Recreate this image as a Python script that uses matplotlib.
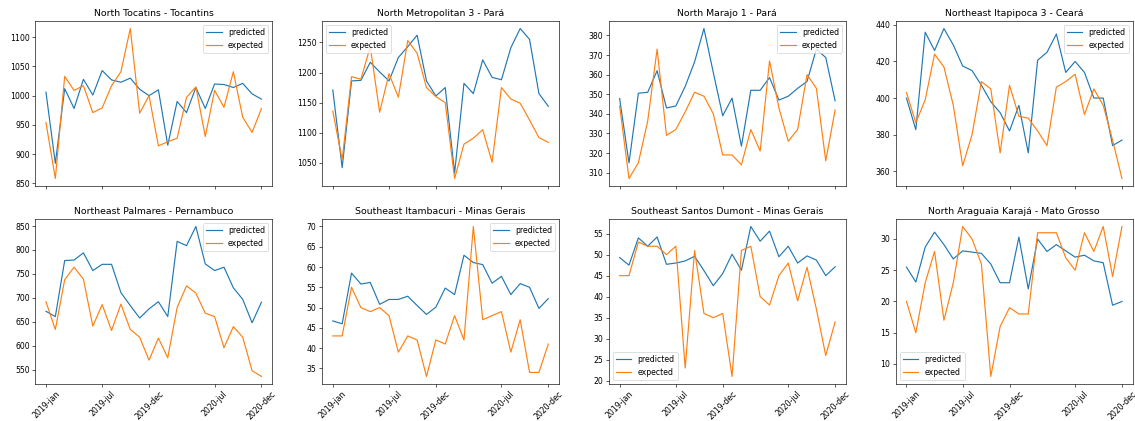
import numpy as np
import matplotlib
matplotlib.use("Agg")
import matplotlib.pyplot as plt

#--------------data-------------
months = list(range(24))
tick_pos = [0, 6, 11, 18, 23]
tick_labels = ['2019-jan', '2019-jul', '2019-dec', '2020-jul', '2020-dec']

titles = ['North Tocatins - Tocantins', 'North Metropolitan 3 - Pará',
          'North Marajo 1 - Pará', 'Northeast Itapipoca 3 - Ceará',
          'Northeast Palmares - Pernambuco', 'Southeast Itambacuri - Minas Gerais',
          'Southeast Santos Dumont - Minas Gerais', 'North Araguaia Karajá - Mato Grosso']

tocantins_pred = [1006, 884, 1012, 978, 1028, 1001, 1043, 1027, 1023, 1030, 1011, 1000,
                  1010, 915, 990, 971, 1014, 978, 1020, 1019, 1014, 1021, 1003, 994]
tocantins_exp = [954, 858, 1033, 1009, 1017, 971, 979, 1017, 1041, 1115, 970, 1000,
                 914, 921, 927, 997, 1015, 930, 1009, 980, 1041, 963, 937, 978]

metropolitan_pred = [1171, 1042, 1186, 1187, 1217, 1201, 1186, 1225, 1243, 1262, 1186, 1161,
                     1175, 1033, 1182, 1165, 1221, 1192, 1188, 1241, 1273, 1255, 1165, 1144]
metropolitan_exp = [1136, 1055, 1193, 1189, 1243, 1134, 1198, 1159, 1253, 1232, 1175, 1160,
                    1150, 1024, 1081, 1091, 1105, 1051, 1175, 1156, 1149, 1121, 1092, 1084]

marajo_pred = [347.8, 315, 350.5, 351, 362, 343, 344, 354, 366.5, 383.5, 361, 339,
               348, 323.5, 352, 352, 358.5, 347, 349, 353, 356.5, 373, 368.7, 346.6]
marajo_exp = [344, 307, 315, 336.4, 373, 329, 332, 341, 351, 349, 340, 319,
              319, 314, 332, 321, 367, 343, 326, 332, 360, 353, 316, 342]

itapipoca_pred = [400, 382.7, 436, 426, 438, 429, 417.5, 415, 407, 398, 392, 382,
                  396, 370, 420.7, 425, 435, 414, 420, 414, 400, 400, 374, 377]
itapipoca_exp = [403, 386.5, 399, 424, 417, 396, 363, 380, 409, 405, 370, 407,
                 390, 389, 382, 374, 406, 409, 413, 391, 405, 396, 377, 356]

palmares_pred = [672, 661, 778, 779, 794, 757, 770, 770, 711, 684, 658, 677,
                 692, 661, 818, 809, 849, 771, 757, 764, 721, 697, 648, 691]
palmares_exp = [692, 634, 738, 764, 739, 641, 686, 632, 687, 634, 618, 570,
                616, 575, 680, 725, 710, 668, 661, 596, 640, 618, 548, 536]

itambacuri_pred = [46.7, 46, 58.5, 55.8, 56.2, 50.8, 52, 52, 52.8, 50.5, 48.3, 50.1,
                   54.8, 53.2, 62.9, 61.1, 60.6, 56, 57.7, 53.2, 55.9, 55, 49.8, 52.2]
itambacuri_exp = [43, 43, 55, 50, 49, 50, 48, 39, 43, 42, 33, 42,
                  41, 48, 42, 70, 47, 48, 49, 39, 47, 34, 34, 41]

santos_pred = [49.3, 47.5, 54, 52, 54.2, 47.7, 48, 48.5, 49.6, 46.2, 42.6, 45.5,
               50.1, 46.3, 56.7, 53.2, 55.6, 49.5, 52, 48, 49.7, 48.7, 45, 47.1]
santos_exp = [45, 45, 53, 52, 52, 50, 52, 23, 51, 36, 35, 36,
              21, 51, 52, 40, 38, 45, 48, 39, 47, 37, 26, 34]

araguaia_pred = [25.5, 23.1, 28.7, 31.1, 29.1, 26.8, 28.1, 27.9, 27.7, 26, 23, 23,
                 30.3, 22, 30, 28, 29.1, 28.1, 27.1, 27.4, 26.5, 26.2, 19.4, 20]
araguaia_exp = [20, 15, 23, 28, 17, 23, 32, 30, 26, 8, 16, 19,
                18, 18, 31, 31, 31, 27, 25, 31, 28, 32, 24, 32]

predicted = [tocantins_pred, metropolitan_pred, marajo_pred, itapipoca_pred,
             palmares_pred, itambacuri_pred, santos_pred, araguaia_pred]
expected = [tocantins_exp, metropolitan_exp, marajo_exp, itapipoca_exp,
            palmares_exp, itambacuri_exp, santos_exp, araguaia_exp]
legend_loc = ['upper right', 'upper left', 'upper right', 'upper right',
              'upper right', 'upper right', 'lower left', 'lower left']

#--------------------draw---------------------
# the original looks like a big figure shrunk down, so everything is scaled
s = 0.56
plt.rcParams['axes.linewidth'] = 0.8 * s
plt.rcParams['xtick.major.width'] = 0.8 * s
plt.rcParams['ytick.major.width'] = 0.8 * s
plt.rcParams['xtick.major.size'] = 3.5 * s
plt.rcParams['ytick.major.size'] = 3.5 * s
plt.rcParams['xtick.major.pad'] = 3.5 * s
plt.rcParams['ytick.major.pad'] = 3.5 * s
plt.rcParams['patch.linewidth'] = 1.0 * s

fig, axes = plt.subplots(2, 4, figsize=(11.35, 4.21), dpi=100, sharex=True)
fig.subplots_adjust(left=0.031, right=0.998, top=0.95, bottom=0.088,
                    wspace=0.21, hspace=0.2)

for k, ax in enumerate(axes.flat):
    ax.plot(months, predicted[k], color='tab:blue', lw=1.5 * s, label='predicted')
    ax.plot(months, expected[k], color='tab:orange', lw=1.5 * s, label='expected')
    ax.set_title(titles[k], fontsize=12 * s, pad=6 * s)
    ax.tick_params(labelsize=10 * s)
    ax.legend(loc=legend_loc[k], fontsize=10 * s)
    ax.set_xticks(tick_pos)
    ax.set_xticklabels(tick_labels, rotation=45)

plt.savefig('out.png')
